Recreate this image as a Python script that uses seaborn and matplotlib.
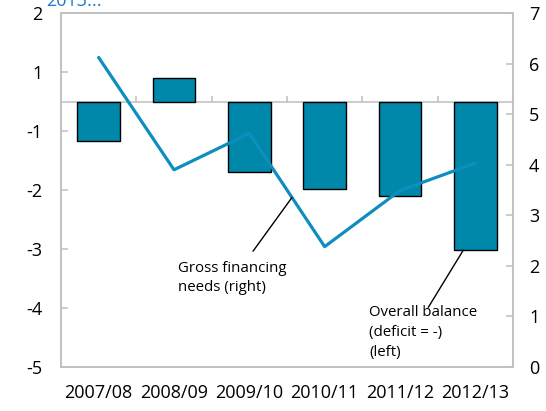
import numpy as np
import pandas as pd
import matplotlib
matplotlib.use("Agg")
import matplotlib.pyplot as plt
from matplotlib.ticker import FixedLocator, FuncFormatter
import seaborn as sns

# Fiscal years and the two series
years = ["2007/08", "2008/09", "2009/10", "2010/11", "2011/12", "2012/13"]
overall_balance = [-0.67, 0.39, -1.19, -1.48, -1.60, -2.52]   # left axis
gross_financing = [6.12, 3.90, 4.62, 2.38, 3.49, 4.03]        # right axis

# Axis ticks (left ticks sit on half units and are shown rounded half away from zero)
left_ticks = [1.5, 0.5, -0.5, -1.5, -2.5, -3.5, -4.5]
right_ticks = [0, 1, 2, 3, 4, 5, 6, 7]

title_text = "2013..."
line_label = "Gross financing\nneeds (right)"
bar_label = "Overall balance\n(deficit = -)\n(left)"

BAR_BLUE = "#0088AB"
LINE_BLUE = "#0D8EBE"
FRAME = "#BFBFBF"
TITLE_BLUE = "#1F78C8"

sns.set_theme(style="white")
plt.rcParams["font.family"] = ["Open Sans", "DejaVu Sans"]

W, H = 546, 411
fig = plt.figure(figsize=(W / 100, H / 100), dpi=100)
ax = fig.add_axes([61 / W, 44 / H, 452 / W, 354 / H])

df = pd.DataFrame({"year": years, "balance": overall_balance})
sns.barplot(data=df, x="year", y="balance", color=BAR_BLUE, saturation=1,
            width=0.57, edgecolor="black", linewidth=1.0, ax=ax, zorder=3)
ax.set_xlim(-0.5, len(years) - 0.5)
ax.set_ylim(-4.5, 1.5)
ax.set_xlabel("")
ax.set_ylabel("")


def round_half_away(v, pos=None):
    return f"{np.sign(v) * np.floor(abs(v) + 0.5):.0f}"


ax.yaxis.set_major_locator(FixedLocator(left_ticks))
ax.yaxis.set_major_formatter(FuncFormatter(round_half_away))
ax.tick_params(axis="y", direction="in", length=5, width=1.1, color=FRAME,
               labelsize=13, pad=13.5, labelcolor="black", left=True)
ax.tick_params(axis="x", length=0, pad=12, labelsize=13, labelcolor="black")

# Category axis crossing at zero, with tick marks between the categories
zero_axis = ax.secondary_xaxis(0, transform=ax.transData)
zero_axis.set_xticks(np.arange(len(years) - 1) + 0.5)
zero_axis.tick_params(direction="in", length=4, width=1.1, color=FRAME,
                      labelbottom=False)
for name, sp in zero_axis.spines.items():
    sp.set_visible(name == "bottom")
    sp.set_color(FRAME)
    sp.set_linewidth(1.1)

# Gross financing needs on the right axis, drawn above the bars
ax2 = ax.twinx()
ax2.set_zorder(ax.get_zorder() + 1)
ax2.patch.set_visible(False)
xpos = np.arange(len(years))
sns.lineplot(x=xpos, y=gross_financing, color=LINE_BLUE, linewidth=2.3, ax=ax2)
ax2.set_ylim(0, 7)
ax2.set_xlim(-0.5, len(years) - 0.5)
ax2.yaxis.set_major_locator(FixedLocator(right_ticks))
ax2.tick_params(axis="y", direction="in", length=5, width=1.1, color=FRAME,
                labelsize=13, pad=11.5, labelcolor="black", right=True)

for a in (ax, ax2):
    for sp in a.spines.values():
        sp.set_color(FRAME)
        sp.set_linewidth(1.1)

# Leader lines and labels
lx = 2.566
ly = np.interp(lx, xpos, gross_financing)
ax2.annotate("", xy=(lx, ly), xytext=(2.049, 2.29),
             arrowprops=dict(arrowstyle="-", color="black", lw=1.0,
                             shrinkA=0, shrinkB=0))
ax.text(1.053, -2.70, line_label, ha="left", va="top", fontsize=10.8,
        linespacing=1.35, color="black")

bx = len(years) - 1 - 0.16
ax2.annotate("", xy=(bx, (overall_balance[-1] + 4.5) * 7 / 6), xytext=(4.376, 1.18),
             arrowprops=dict(arrowstyle="-", color="black", lw=1.0,
                             shrinkA=0, shrinkB=0))
ax2.text(3.589, 1.22, bar_label, ha="left", va="top", fontsize=10.8,
         linespacing=1.45, color="black")

fig.text(46 / W, 1 - 6 / H, title_text, color=TITLE_BLUE, fontsize=13,
         ha="left", va="baseline")

fig.savefig("out.png", dpi=100)
